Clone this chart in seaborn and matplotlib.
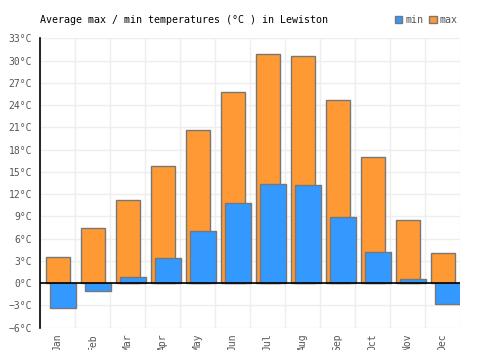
import numpy as np
import pandas as pd
import matplotlib
matplotlib.use("Agg")
import matplotlib.pyplot as plt
from matplotlib.patches import Patch
from matplotlib.ticker import FuncFormatter
import seaborn as sns

months = ["Jan", "Feb", "Mar", "Apr", "May", "Jun", "Jul", "Aug", "Sep", "Oct", "Nov", "Dec"]
temp_max = [3.5, 7.4, 11.2, 15.8, 20.6, 25.7, 30.9, 30.6, 24.7, 17.0, 8.5, 4.1]
temp_min = [-3.4, -1.1, 0.8, 3.4, 7.0, 10.8, 13.3, 13.2, 8.9, 4.2, 0.5, -2.8]
y_ticks = list(range(-6, 34, 3))

sns.set_style("white")
plt.rcParams["font.family"] = ["DejaVu Sans Mono"]

idx = np.arange(len(months))
df_max = pd.DataFrame({"pos": idx.astype(float), "temp": temp_max})
df_min = pd.DataFrame({"pos": idx + 0.145, "temp": temp_min})

fig = plt.figure(figsize=(5, 3.5), dpi=100)
ax = fig.add_axes([0.0807, 0.0637, 0.84, 0.827])

c_max = "#ff9933"
c_min = "#3399ff"
edge = "#777777"

sns.barplot(data=df_max, x="pos", y="temp", native_scale=True, width=0.69,
            color=c_max, saturation=1, edgecolor=edge, linewidth=1, ax=ax, zorder=2)
sns.barplot(data=df_min, x="pos", y="temp", native_scale=True, width=0.72,
            color=c_min, saturation=1, edgecolor=edge, linewidth=1, ax=ax, zorder=3)

ax.set_xlim(-0.5, 11.5)
ax.set_ylim(-6, 33)
ax.set_xticks(idx)
ax.set_xticklabels(months, rotation=90, color="#555555", fontsize=7)
ax.set_xticks(np.arange(-0.5, 12, 1), minor=True)
ax.set_yticks(y_ticks)
ax.yaxis.set_major_formatter(FuncFormatter(lambda v, p: f"{int(v)}°C".replace("-", "\u2212")))
ax.tick_params(axis="y", colors="#555555", labelsize=7, length=0, pad=6)
ax.tick_params(axis="x", which="both", length=0, pad=4)
ax.set_xlabel("")
ax.set_ylabel("")

ax.grid(axis="y", which="major", color="#eeeeee", lw=1, zorder=0)
ax.grid(axis="x", which="minor", color="#eeeeee", lw=1, zorder=0)
ax.set_axisbelow(True)
for s in ["top", "right", "bottom"]:
    ax.spines[s].set_visible(False)
ax.spines["left"].set_color("black")
ax.spines["left"].set_linewidth(1.2)
ax.axhline(0, color="black", lw=1.2, zorder=4)

fig.text(0.08, 0.943, "Average max / min temperatures (°C ) in Lewiston",
         fontsize=7.2, color="black", va="center", ha="left")

handles = [Patch(facecolor=c_min, edgecolor=edge), Patch(facecolor=c_max, edgecolor=edge)]
fig.legend(handles, ["min", "max"], loc="center right", bbox_to_anchor=(0.915, 0.943),
           ncol=2, frameon=False, handlelength=0.75, handleheight=0.75,
           handletextpad=0.3, columnspacing=0.6, labelcolor="#555555",
           prop={"family": "DejaVu Sans Mono", "size": 7.2}, borderaxespad=0, borderpad=0)

fig.savefig("out.png", dpi=100)
